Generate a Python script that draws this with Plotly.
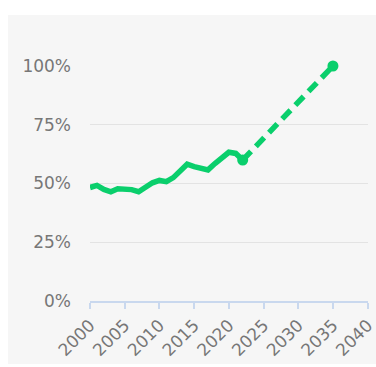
import plotly.graph_objects as go

years_hist = [2000, 2001, 2002, 2003, 2004, 2005, 2006, 2007, 2008, 2009, 2010, 2011,
              2012, 2013, 2014, 2015, 2016, 2017, 2018, 2019, 2020, 2021, 2022]
share_hist = [48.3, 49.2, 47.5, 46.5, 47.8, 47.5, 47.4, 46.5, 48.5, 50.3, 51.3, 50.8,
              52.5, 55.5, 58.2, 57.2, 56.5, 55.8, 58.5, 60.8, 63.3, 62.8, 60.0]
years_target = [2022, 2035]
share_target = [60.0, 100.0]
x_ticks = [2000, 2005, 2010, 2015, 2020, 2025, 2030, 2035, 2040]
y_ticks = [0, 25, 50, 75, 100]
y_tick_labels = ["0%", "25%", "50%", "75%", "100%"]

GREEN = "#0acf6c"
FONT = "DejaVu Sans"

fig = go.Figure()
fig.add_trace(go.Scatter(x=years_hist, y=share_hist, mode="lines",
                         line=dict(color=GREEN, width=5.5), cliponaxis=False,
                         hoverinfo="skip"))
fig.add_trace(go.Scatter(x=years_target, y=share_target, mode="lines+markers",
                         line=dict(color=GREEN, width=5.5, dash="12px,7px"),
                         marker=dict(color=GREEN, size=11), cliponaxis=False,
                         hoverinfo="skip"))

L, R, T, B = 90, 8, 66, 66
W, H = 376, 367
pw = W - L - R
ph = H - T - B
fig.add_shape(type="rect", xref="paper", yref="paper", layer="below",
              x0=(8 - L) / pw, x1=(W - L) / pw,
              y0=-(364 - (H - B)) / ph, y1=((H - B) - 15) / ph,
              fillcolor="#f6f6f6", line=dict(width=0))

fig.update_layout(
    width=W, height=H, margin=dict(l=L, r=R, t=T, b=B, autoexpand=False),
    paper_bgcolor="white", plot_bgcolor="rgba(0,0,0,0)",
    showlegend=False,
    font=dict(family=FONT, size=17, color="#777777"),
    xaxis=dict(range=[2000, 2040.05], tickvals=x_ticks, ticktext=[str(v) for v in x_ticks],
               tickangle=-45, ticklabeloverflow="allow", automargin=False,
               showgrid=False, zeroline=False, showline=True,
               linecolor="#c9d8ee", linewidth=1.5, ticks="outside", ticklen=6,
               tickcolor="#c9d8ee", tickwidth=1.5,
               tickfont=dict(family=FONT, size=17, color="#777777")),
    yaxis=dict(range=[0, 100], tickvals=y_ticks, ticktext=y_tick_labels,
               automargin=False,
               showgrid=True, gridcolor="#e3e3e3", gridwidth=1, zeroline=False,
               showline=False, ticks="", ticklabelstandoff=18,
               tickfont=dict(family=FONT, size=17, color="#777777")),
)

fig.write_html("out.html")
